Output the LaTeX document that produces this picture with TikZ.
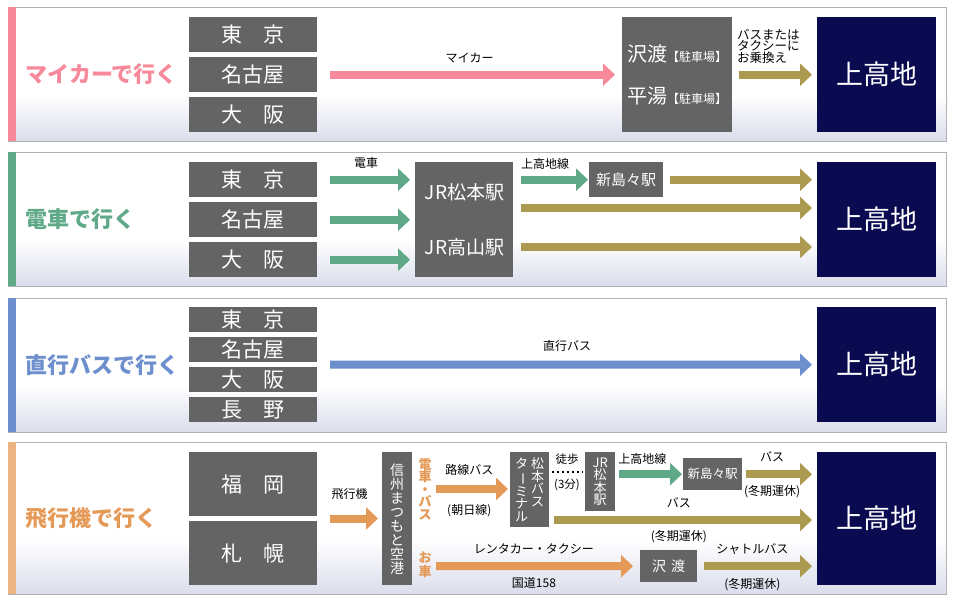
\documentclass[tikz,border=0pt]{standalone}
\usepackage{fontspec}
\setmainfont{Noto Sans CJK JP}
\usetikzlibrary{arrows.meta,positioning}
\definecolor{carpink}{RGB}{247,137,155}
\definecolor{trainteal}{RGB}{95,168,136}
\definecolor{busblue}{RGB}{110,143,206}
\definecolor{planeorange}{RGB}{229,153,86}
\definecolor{planebar}{RGB}{234,181,130}
\definecolor{olive}{RGB}{173,154,81}
\definecolor{boxgray}{RGB}{100,100,100}
\definecolor{navy}{RGB}{10,10,80}
\definecolor{lavender}{RGB}{218,221,235}
\definecolor{framegray}{RGB}{178,178,178}
\tikzset{citybox/.style={fill=boxgray,text=white,anchor=north west,minimum width=128pt,inner sep=0pt,font=\fontsize{21}{21}\selectfont}}
\tikzset{graybox/.style={fill=boxgray,text=white,anchor=north west,inner sep=0pt}}
\tikzset{goalbox/.style={fill=navy,text=white,anchor=north west,minimum width=119pt,minimum height=115pt,inner sep=0pt,font=\fontsize{27}{27}\selectfont}}
\tikzset{headline/.style={anchor=west,inner sep=0pt,font=\bfseries\fontsize{22}{22}\selectfont}}
\tikzset{waylabel/.style={inner sep=1pt,text=black,font=\fontsize{12}{12}\selectfont}}
\tikzset{vlabel/.style={inner sep=0pt,align=center,text=planeorange,font=\bfseries\fontsize{13}{12.5}\selectfont}}
\tikzset{pinkarrow/.style={-{Triangle[width=22pt,length=12pt]},line width=8pt,draw=carpink}}
\tikzset{trainarrow/.style={-{Triangle[width=22pt,length=12pt]},line width=8pt,draw=trainteal}}
\tikzset{busarrow/.style={-{Triangle[width=22pt,length=12pt]},line width=8pt,draw=busblue}}
\tikzset{planearrow/.style={-{Triangle[width=22pt,length=12pt]},line width=8pt,draw=planeorange}}
\tikzset{olivearrow/.style={-{Triangle[width=22pt,length=12pt]},line width=8pt,draw=olive}}
\tikzset{walkdots/.style={line width=2pt,dash pattern=on 2pt off 3pt,shorten <=3pt,shorten >=2pt}}
\newcommand{\vcolumn}[1]{\parbox[t]{13pt}{\centering\fontsize{13}{12.5}\selectfont #1}}

\begin{document}
\begin{tikzpicture}[x=1pt,y=-1pt]
	\useasboundingbox (0,0) rectangle (953,604);

	% panels
	\fill[white] (8,7) rectangle (946,141);
	\shade[top color=white,bottom color=lavender] (8,95) rectangle (946,141);
	\draw[framegray] (8,7) rectangle (946,141);
	\fill[carpink] (8,7) rectangle (16,141);

	\fill[white] (8,152) rectangle (946,286);
	\shade[top color=white,bottom color=lavender] (8,240) rectangle (946,286);
	\draw[framegray] (8,152) rectangle (946,286);
	\fill[trainteal] (8,152) rectangle (16,286);

	\fill[white] (8,298) rectangle (946,432);
	\shade[top color=white,bottom color=lavender] (8,386) rectangle (946,432);
	\draw[framegray] (8,298) rectangle (946,432);
	\fill[busblue] (8,298) rectangle (16,432);

	\fill[white] (8,442) rectangle (946,594);
	\shade[top color=white,bottom color=lavender] (8,540) rectangle (946,594);
	\draw[framegray] (8,442) rectangle (946,594);
	\fill[planebar] (8,442) rectangle (16,594);

	% by car
	\node[headline,text=carpink] (carhead) at (25,74) {マイカーで行く};
	\node[citybox,minimum height=35pt] (tokyoA) at (189,17) {東　京};
	\node[citybox,minimum height=35pt] (nagoyaA) at (189,57) {名古屋};
	\node[citybox,minimum height=35pt] (osakaA) at (189,97) {大　阪};
	\node[graybox,minimum width=110pt,minimum height=115pt,align=center,font=\fontsize{20}{42}\selectfont] (parkA) at (622,17)
		{沢渡{\fontsize{12}{42}\selectfont【駐車場】}\\平湯{\fontsize{12}{42}\selectfont【駐車場】}};
	\node[goalbox] (kamiA) at (817,17) {上高地};
	\draw[pinkarrow,shorten <=13pt,shorten >=7pt] (nagoyaA.east) -- (nagoyaA.east -| parkA.west)
		node[waylabel,midway,above=7pt] (carlbl) {マイカー};
	\draw[olivearrow,shorten <=7pt,shorten >=5pt] (parkA.east) -- (kamiA.west);
	\node[waylabel,anchor=west,align=left,font=\fontsize{12.5}{11}\selectfont] (changelbl) at (736,46) {バスまたは\\タクシーに\\お乗換え};

	% by train
	\node[headline,text=trainteal] (trainhead) at (25,219) {電車で行く};
	\node[citybox,minimum height=35pt] (tokyoB) at (189,162) {東　京};
	\node[citybox,minimum height=35pt] (nagoyaB) at (189,202) {名古屋};
	\node[citybox,minimum height=35pt] (osakaB) at (189,242) {大　阪};
	\node[graybox,minimum width=98pt,minimum height=115pt,align=center,font=\fontsize{19}{55}\selectfont] (jrB) at (415,162)
		{J\kern1pt R松本駅\\J\kern1pt R高山駅};
	\node[graybox,minimum width=74pt,minimum height=35pt,font=\fontsize{15}{15}\selectfont] (shinB) at (589,162) {新島々駅};
	\node[goalbox] (kamiB) at (817,162) {上高地};
	\draw[trainarrow,shorten <=13pt,shorten >=5pt] (tokyoB.east) -- (tokyoB.east -| jrB.west)
		node[waylabel,midway,above=6pt] (trainlbl) {電車};
	\draw[trainarrow,shorten <=13pt,shorten >=5pt] (nagoyaB.east) -- (nagoyaB.east -| jrB.west);
	\draw[trainarrow,shorten <=13pt,shorten >=5pt] (osakaB.east) -- (osakaB.east -| jrB.west);
	\draw[trainarrow,shorten <=8pt,shorten >=1pt] (jrB.east |- shinB.west) -- (shinB.west)
		node[waylabel,pos=0.42,above=5pt] (linelblB) {上高地線};
	\draw[olivearrow,shorten <=7pt,shorten >=5pt] (shinB.east) -- (shinB.east -| kamiB.west);
	\coordinate (jrmid) at (513,208);
	\coordinate (jrlow) at (513,247);
	\draw[olivearrow,shorten <=8pt,shorten >=5pt] (jrmid) -- (jrmid -| kamiB.west);
	\draw[olivearrow,shorten <=8pt,shorten >=5pt] (jrlow) -- (jrlow -| kamiB.west);

	% by express bus
	\node[headline,text=busblue] (bushead) at (25,365) {直行バスで行く};
	\node[citybox,minimum height=25pt] (tokyoC) at (189,307) {東　京};
	\node[citybox,minimum height=25pt] (nagoyaC) at (189,337) {名古屋};
	\node[citybox,minimum height=25pt] (osakaC) at (189,367) {大　阪};
	\node[citybox,minimum height=25pt] (naganoC) at (189,397) {長　野};
	\node[goalbox] (kamiC) at (817,307) {上高地};
	\coordinate (busstart) at (317,364.5);
	\draw[busarrow,shorten <=13pt,shorten >=5pt] (busstart) -- (kamiC.west)
		node[waylabel,midway,above=8pt] (buslbl) {直行バス};

	% by plane
	\node[headline,text=planeorange] (planehead) at (25,518) {飛行機で行く};
	\node[citybox,minimum height=64pt] (fukuokaD) at (189,452) {福　岡};
	\node[citybox,minimum height=64pt] (sapporoD) at (189,521) {札　幌};
	\node[graybox,minimum width=30pt,minimum height=133pt,align=center,font=\fontsize{14}{14}\selectfont] (airportD) at (382,452)
		{信\\州\\ま\\つ\\も\\と\\空\\港};
	\node[vlabel] (railmode) at (425,489) {電\\車\\・\\バ\\ス};
	\node[vlabel,font=\bfseries\fontsize{13}{13.5}\selectfont] (carmode) at (425,565) {お\\車};
	\node[graybox,minimum width=39pt,minimum height=75pt] (terminalD) at (510,452)
		{\vcolumn{タ\\\rotatebox[origin=c]{-90}{ー}\\ミ\\ナ\\ル}\hspace{3pt}\vcolumn{松\\本\\バ\\ス}};
	\node[graybox,minimum width=30pt,minimum height=59pt,align=center,font=\fontsize{13}{12.5}\selectfont] (jrD) at (585,452)
		{JR\\松\\本\\駅};
	\node[graybox,minimum width=59pt,minimum height=32pt,font=\fontsize{12.5}{12.5}\selectfont] (shinD) at (683,458) {新島々駅};
	\node[graybox,minimum width=57pt,minimum height=32pt,font=\fontsize{14}{14}\selectfont] (sawaD) at (640,550) {沢\hspace{5pt}渡};
	\node[goalbox,minimum height=133pt] (kamiD) at (817,452) {上高地};

	\coordinate (planestart) at (317,518.5);
	\draw[planearrow,shorten <=13pt,shorten >=4pt] (planestart) -- (planestart -| airportD.west)
		node[waylabel,midway,above=14pt] (planelbl) {飛行機};
	\coordinate (railbus) at (436,489);
	\draw[planearrow,shorten >=2pt] (railbus) -- (railbus -| terminalD.west)
		node[waylabel,pos=0.45,above=9pt] (routelbl) {路線バス}
		node[waylabel,pos=0.45,below=10pt] (asahilbl) {(朝日線)};
	\coordinate (walkD) at (549,472);
	\draw[walkdots] (walkD) -- (walkD -| jrD.west)
		node[waylabel,midway,above=5pt,font=\fontsize{11.5}{11.5}\selectfont] (walklbl) {徒歩}
		node[waylabel,midway,below=5pt,font=\fontsize{11.5}{11.5}\selectfont] (minutelbl) {(3分)};
	\draw[trainarrow,shorten <=4pt,shorten >=1pt] (jrD.east |- shinD.west) -- (shinD.west)
		node[waylabel,pos=0.4,above=5pt] (linelblD) {上高地線};
	\draw[olivearrow,shorten <=4pt,shorten >=5pt] (shinD.east) -- (shinD.east -| kamiD.west)
		node[waylabel,pos=0.4,above=7pt] (buslblD) {バス}
		node[waylabel,pos=0.4,below=6pt] (winterA) {(冬期運休)};
	\coordinate (termbus) at (549,520);
	\draw[olivearrow,shorten <=5pt,shorten >=5pt] (termbus) -- (termbus -| kamiD.west)
		node[waylabel,pos=0.485,above=7pt] (buslblE) {バス}
		node[waylabel,pos=0.485,below=5pt] (winterB) {(冬期運休)};
	\coordinate (carstart) at (436,566);
	\draw[planearrow,shorten >=7pt] (carstart) -- (sawaD.west)
		node[waylabel,pos=0.48,above=7pt] (rentlbl) {レンタカー・タクシー}
		node[waylabel,pos=0.48,below=6pt] (roadlbl) {国道158};
	\draw[olivearrow,shorten <=7pt,shorten >=5pt] (sawaD.east) -- (sawaD.east -| kamiD.west)
		node[waylabel,pos=0.46,above=7pt] (shuttlelbl) {シャトルバス}
		node[waylabel,pos=0.46,below=7pt] (winterC) {(冬期運休)};
\end{tikzpicture}
\end{document}
